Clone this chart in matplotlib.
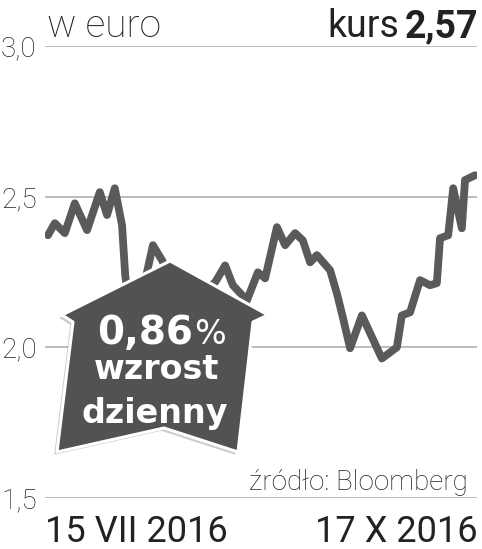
import matplotlib.pyplot as plt
from matplotlib.patches import Polygon
import matplotlib.patheffects as pe

# kurs w euro, dni od 15 VII 2016
days = [0.0, 1.5, 3.7, 5.9, 8.6, 11.4, 13.0, 14.7, 16.3, 17.0, 18.1, 20.3, 21.8,
        23.1, 25.1, 28.0, 31.3, 34.6, 36.8, 39.0, 40.7, 43.8, 46.2, 47.8, 50.4,
        52.2, 54.4, 56.1, 57.7, 59.2, 62.1, 63.6, 64.9, 66.5, 69.1, 73.5, 76.8,
        77.9, 79.7, 81.9, 84.1, 85.6, 86.3, 88.1, 89.2, 91.1, 91.8, 94.0]
price = [2.372, 2.412, 2.379, 2.478, 2.389, 2.515, 2.439, 2.528, 2.405, 2.239,
         2.12, 2.15, 2.25, 2.339, 2.289, 2.2, 2.15, 2.19, 2.216, 2.272, 2.206,
         2.156, 2.249, 2.229, 2.399, 2.339, 2.379, 2.355, 2.282, 2.306, 2.256,
         2.179, 2.100, 1.997, 2.106, 1.963, 2.000, 2.106, 2.116, 2.223, 2.206,
         2.213, 2.362, 2.372, 2.528, 2.395, 2.555, 2.571]
yticks = [1.5, 2.0, 2.5, 3.0]
ylabels = ['1,5', '2,0', '2,5', '3,0']

W, H = 482, 549
fig = plt.figure(figsize=(W / 100, H / 100), dpi=100)
ax = fig.add_axes([45 / W, 1 - 498 / H, 432 / W, 452 / H])

for y in yticks:
    ax.axhline(y, color='#aaaaaa', lw=1.1, zorder=1)
ax.plot(days, price, color='#5a5a5a', lw=5.6, solid_capstyle='round',
        solid_joinstyle='round', zorder=2)

ax.set_xlim(-0.66, 94.44)
ax.set_ylim(1.5, 3.0)
ax.set_yticks(yticks)
ax.set_yticklabels(ylabels, family='Roboto', fontweight='light', fontsize=20,
                   color='#222222')
ax.tick_params(axis='y', length=0, pad=6)
ax.set_xticks([])
for s in ax.spines.values():
    s.set_visible(False)


def px(x, y):
    return (x / W, 1 - y / H)


house = [px(170, 261), px(268, 315), px(253, 322), px(238, 452),
         px(164, 428), px(57, 452), px(73, 322), px(62, 315)]
poly = Polygon(house, closed=True, transform=fig.transFigure,
               facecolor='#525252', edgecolor='white', lw=2.2, zorder=5,
               joinstyle='round')
poly.set_path_effects([pe.SimplePatchShadow(offset=(-2, -2), shadow_rgbFace='#999999', alpha=0.5),
                       pe.Normal()])
fig.patches.append(poly)

fig.text(*px(97, 344), '0,86', family='DejaVu Sans', fontweight='bold',
         fontsize=28, color='white', ha='left', va='baseline', zorder=6)
fig.text(*px(226, 344), '%', family='DejaVu Sans', fontsize=24,
         color='white', ha='right', va='baseline', zorder=6)
fig.text(*px(157, 379), 'wzrost', family='DejaVu Sans', fontweight='bold',
         fontsize=24, color='white', ha='center', va='baseline', zorder=6)
fig.text(*px(155, 423), 'dzienny', family='DejaVu Sans', fontweight='bold',
         fontsize=24, color='white', ha='center', va='baseline', zorder=6)

fig.text(*px(47, 37), 'w euro', family='Roboto', fontweight='light',
         fontsize=28, color='#222222', ha='left', va='baseline')
fig.text(*px(399, 37), 'kurs', family='Roboto', fontsize=27,
         color='#222222', ha='right', va='baseline')
fig.text(*px(478, 37), '2,57', family='Roboto', fontweight='bold',
         fontsize=27, color='#222222', ha='right', va='baseline')
fig.text(*px(468, 490), 'źródło: Bloomberg', family='Roboto',
         fontweight='light', fontsize=20, color='#222222', ha='right',
         va='baseline')
fig.text(*px(45, 542), '15 VII 2016', family='Roboto', fontsize=26,
         color='#222222', ha='left', va='baseline')
fig.text(*px(478, 542), '17 X 2016', family='Roboto', fontsize=26,
         color='#222222', ha='right', va='baseline')

fig.savefig('out.png', dpi=100)
